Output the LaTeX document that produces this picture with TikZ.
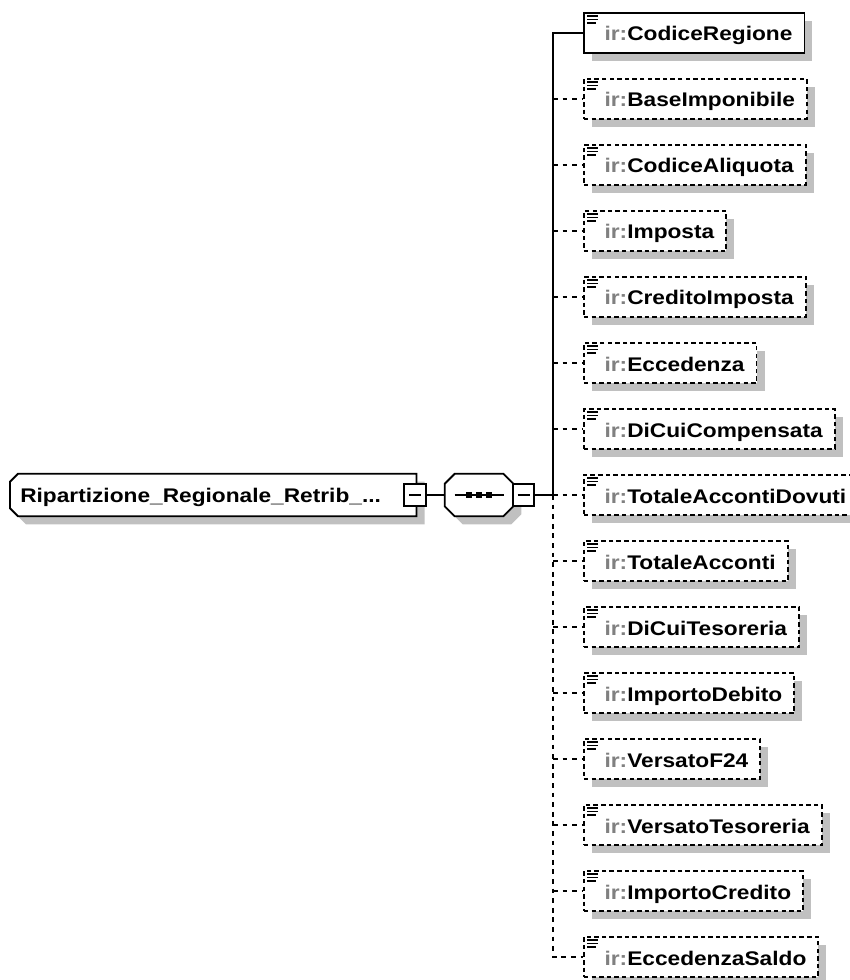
\documentclass[tikz,border=0pt]{standalone}
\usepackage{fontspec}
\newfontfamily\xfont[FakeStretch=1.15]{Liberation Sans Bold}
\usetikzlibrary{shadows}
\definecolor{shadowc}{RGB}{192,192,192}
\definecolor{prefixc}{RGB}{128,128,128}
\tikzset{
  ln/.style={line width=1.35pt},
  bdash/.style={dash pattern=on 3.4pt off 2.3pt},
  cdash/.style={dash pattern=on 3.6pt off 3.6pt},
  xtext/.style={font=\xfont\fontsize{14.8}{16}\selectfont},
  elem/.style={draw, ln, fill=white, anchor=west, minimum height=30pt,
    inner ysep=0pt, inner xsep=9pt, text height=12pt, text depth=0pt, xtext,
    drop shadow={shadow xshift=6pt, shadow yshift=-6pt, fill=shadowc, opacity=1}},
  opt/.style={elem, bdash},
  minus/.style={draw, ln, fill=white, minimum size=16pt, inner sep=0pt},
  icon/.style={line width=1.1pt},
}
\newcommand\mainpath[1]{([shift={(#1+8,#1)}]main.north west) -- ([shift={(#1,#1)}]main.north east) -- ([shift={(#1,#1)}]main.south east) -- ([shift={(#1+8,#1)}]main.south west) -- ([shift={(#1,#1-8)}]main.south west) -- ([shift={(#1,#1+8)}]main.north west) -- cycle}
\newcommand\seqpath[1]{([shift={(#1+10,#1)}]seq.north west) -- ([shift={(#1-10,#1)}]seq.north east) -- ([shift={(#1,#1+10)}]seq.north east) -- ([shift={(#1,#1-10)}]seq.south east) -- ([shift={(#1-10,#1)}]seq.south east) -- ([shift={(#1+10,#1)}]seq.south west) -- ([shift={(#1,#1-10)}]seq.south west) -- ([shift={(#1,#1+10)}]seq.north west) -- cycle}
\begin{document}
\begin{tikzpicture}[x=0.75pt, y=-0.75pt]
\useasboundingbox (0,0) rectangle (849,980);
% main element
\node[minimum width=304.5pt, minimum height=31.5pt, inner sep=0pt, anchor=west] (main) at (10,495) {};
\fill[shadowc] \mainpath{8};
\draw[ln, fill=white] \mainpath{0};
\node[xtext, anchor=base west, inner sep=0pt] (mt) at (20,502) {Ripartizione\_Regionale\_Retrib\_...};
\node[minus] (mm) at (415,495) {};
\draw[ln] ([shift={(-6,0)}]mm.center) -- ([shift={(6,0)}]mm.center);
% sequence
\node[minimum width=51pt, minimum height=31.5pt, inner sep=0pt] (seq) at (479,495) {};
\fill[shadowc] \seqpath{8};
\draw[ln, fill=white] \seqpath{0};
\draw[ln] ([shift={(10,0)}]seq.west) -- ([shift={(-9,0)}]seq.east);
\foreach \d in {-10,0,10} \fill ([shift={(\d-3,-3)}]seq.center) rectangle ++(6,6);
\node[minus] (sm) at (523.5,495) {};
\draw[ln] ([shift={(-6,0)}]sm.center) -- ([shift={(6,0)}]sm.center);
\draw[ln] (mm.east) -- (seq.west);
% children
\foreach \n/\s [count=\i] in {CodiceRegione/elem,BaseImponibile/opt,CodiceAliquota/opt,Imposta/opt,CreditoImposta/opt,Eccedenza/opt,DiCuiCompensata/opt,TotaleAccontiDovuti/opt,TotaleAcconti/opt,DiCuiTesoreria/opt,ImportoDebito/opt,VersatoF24/opt,VersatoTesoreria/opt,ImportoCredito/opt,EccedenzaSaldo/opt}{
  \node[\s] (c\i) at (583,{33+66*(\i-1)}) {\hspace*{6.5pt}\textcolor{prefixc}{ir:}\n};
  \draw[icon] ([shift={(4,4)}]c\i.north west) -- ++(11,0);
  \draw[icon] ([shift={(4,7.5)}]c\i.north west) -- ++(11,0);
  \draw[icon] ([shift={(4,11)}]c\i.north west) -- ++(9,0);
}
% connectors
\coordinate (j) at (553,495);
\draw[ln] (sm.east) -- (j);
\draw[ln] (j) |- (c1.west);
\foreach \i in {2,...,7} \draw[ln, cdash] (c\i.west -| j) -- (c\i.west);
\draw[ln, cdash] (j) -- (c8.west);
\draw[ln, cdash] (j) |- (c15.west);
\foreach \i in {9,...,14} \draw[ln, cdash] (c\i.west -| j) -- (c\i.west);
\end{tikzpicture}
\end{document}
